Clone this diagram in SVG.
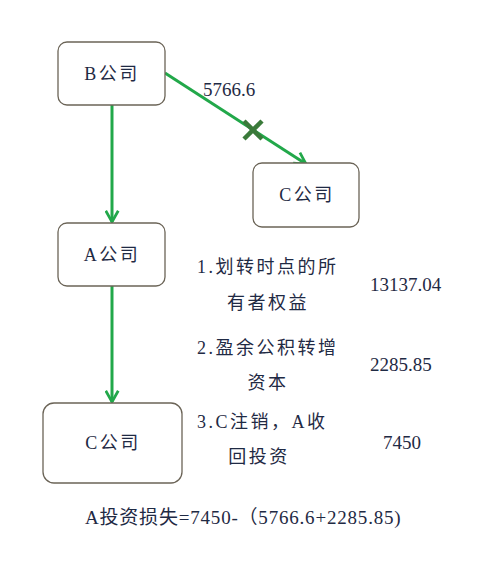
<svg xmlns="http://www.w3.org/2000/svg" width="500" height="585" viewBox="0 0 500 585">
<style>
.node{fill:#fff;stroke:#6b6457;stroke-width:1.3}
.t{font-family:"Liberation Serif","Noto Sans CJK SC",serif;font-size:18px;fill:#1f2a44}
.n{font-size:19px}
.cj{letter-spacing:2.5px}
.e{fill:none;stroke:#22a84a;stroke-width:3}
</style>
<defs>
<marker id="ah" viewBox="0 0 12 12" refX="10" refY="6" markerWidth="5" markerHeight="5" orient="auto" markerUnits="strokeWidth">
<path d="M1,1 L10,6 L1,11" fill="none" stroke="#22a84a" stroke-width="2.2"/>
</marker>
</defs>
<rect width="500" height="585" fill="#fff"/>
<g id="connectors">
<line class="e" x1="112" y1="105" x2="112" y2="222" marker-end="url(#ah)"/>
<line class="e" x1="112" y1="286" x2="112" y2="402" marker-end="url(#ah)"/>
<line class="e" x1="165" y1="73" x2="306" y2="164" marker-end="url(#ah)"/>
<g stroke="#3a7a3a" stroke-width="4.5">
<line x1="244" y1="121" x2="262" y2="139"/>
<line x1="262" y1="121" x2="244" y2="139"/>
</g>
<text class="t n" x="203" y="96" font-size="18">5766.6</text>
</g>
<g id="nodeB">
<rect class="node" x="58" y="42" width="107" height="63" rx="9"/>
<text class="t cj" x="112" y="80" text-anchor="middle">B公司</text>
</g>
<g id="nodeC1">
<rect class="node" x="253" y="163" width="106" height="64" rx="9"/>
<text class="t cj" x="307" y="201" text-anchor="middle">C公司</text>
</g>
<g id="nodeA">
<rect class="node" x="58" y="223" width="107" height="63" rx="9"/>
<text class="t cj" x="112" y="261" text-anchor="middle">A公司</text>
</g>
<g id="nodeC2">
<rect class="node" x="43" y="403" width="139" height="80" rx="11"/>
<text class="t cj" x="113" y="449" text-anchor="middle">C公司</text>
</g>
<g id="notes">
<text class="t cj" x="197" y="273">1.划转时点的所</text>
<text class="t cj" x="268" y="309" text-anchor="middle">有者权益</text>
<text class="t n" x="370" y="291">13137.04</text>
<text class="t cj" x="197" y="354">2.盈余公积转增</text>
<text class="t cj" x="268" y="389" text-anchor="middle">资本</text>
<text class="t n" x="370" y="371">2285.85</text>
<text class="t cj" x="197" y="428">3.C注销，A收</text>
<text class="t cj" x="259" y="463" text-anchor="middle">回投资</text>
<text class="t n" x="402" y="449" text-anchor="middle">7450</text>
<text class="t n" x="85" y="524" letter-spacing="0.8">A投资损失=7450-（5766.6+2285.85)</text>
</g>
</svg>
